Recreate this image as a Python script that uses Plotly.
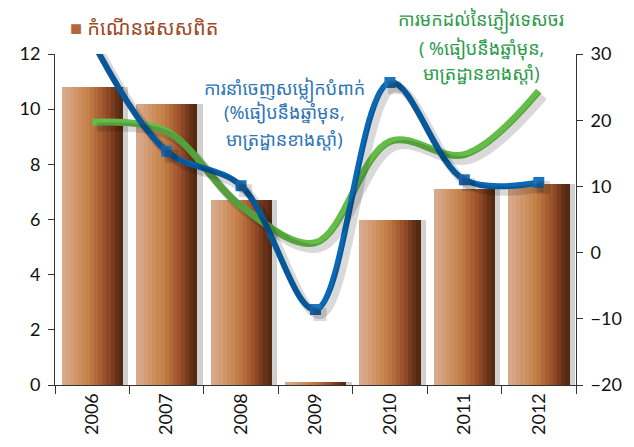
import plotly.graph_objects as go

years = ["2006", "2007", "2008", "2009", "2010", "2011", "2012"]
gdp_growth = [10.8, 10.2, 6.7, 0.1, 6.0, 7.1, 7.3]
garment_exports = [32.0, 15.3, 10.1, -8.6, 25.7, 11.0, 10.6]
tourist_arrivals = [19.7, 18.3, 7.0, 1.5, 16.8, 14.8, 24.4]

gdp_name = "កំណើនផសសពិត"
exports_label = ["ការនាំចេញសម្លៀកបំពាក់", "(%ធៀបនឹងឆ្នាំមុន,", "មាត្រដ្ឋានខាងស្តាំ)"]
tourist_label = ["ការមកដល់នៃភ្ញៀវទេសចរ", "( %ធៀបនឹងឆ្នាំមុន,", "មាត្រដ្ឋានខាងស្តាំ)"]

grad = ["#D8AA8C", "#D6A482", "#D39D76", "#D0966A", "#CD8F5E", "#C98852", "#C3804A",
        "#BC7642", "#B36A3A", "#A85E32", "#9C522B", "#8C4724", "#793B1D", "#643017", "#552912"]

FONT = "Lato, 'Noto Sans', sans-serif"
KH = "'Noto Sans Khmer', 'Khmer OS', 'Noto Sans', sans-serif"

fig = go.Figure()

BW = 0.82
fig.add_trace(go.Bar(x=years, y=gdp_growth, width=BW, offset=-BW / 2 + 0.075,
                     marker=dict(color="rgba(150,150,150,0.45)", line=dict(width=0)),
                     showlegend=False, hoverinfo="skip"))
n = len(grad)
sw = BW / n
for i, c in enumerate(grad):
    fig.add_trace(go.Bar(x=years, y=gdp_growth, width=sw * 1.08, offset=-BW / 2 + i * sw,
                         marker=dict(color=c, line=dict(width=0)),
                         showlegend=False, name=gdp_name))

fig.add_trace(go.Scatter(x=years, y=tourist_arrivals, mode="lines", xaxis="x2", yaxis="y3",
                         line=dict(color="rgba(0,0,0,0.15)", width=9, shape="spline", smoothing=1.0),
                         showlegend=False, hoverinfo="skip"))
fig.add_trace(go.Scatter(x=years, y=garment_exports, mode="lines+markers", xaxis="x2", yaxis="y3",
                         line=dict(color="rgba(0,0,0,0.15)", width=9, shape="spline", smoothing=1.0),
                         marker=dict(symbol="square", size=13, color="rgba(0,0,0,0.15)"),
                         showlegend=False, hoverinfo="skip"))

fig.add_trace(go.Scatter(x=years, y=tourist_arrivals, mode="lines", yaxis="y2",
                         line=dict(color="#64BD48", width=7, shape="spline", smoothing=1.0),
                         showlegend=False))
fig.add_trace(go.Scatter(x=years, y=garment_exports, mode="lines+markers", yaxis="y2",
                         line=dict(color="#0A68B4", width=6, shape="spline", smoothing=1.0),
                         marker=dict(symbol="square", size=11, color="#1E73BE"),
                         showlegend=False))

shift_y = 5 / 6.68
fig.update_layout(
    width=626, height=439,
    margin=dict(l=41, r=51, t=46, b=58),
    paper_bgcolor="white", plot_bgcolor="white",
    barmode="overlay", bargap=0,
    font=dict(family=FONT, size=18, color="#111"),
    showlegend=False,
    xaxis=dict(type="category", range=[-0.5, 6.5], showline=True, linecolor="#333", linewidth=1,
               ticks="outside", ticklen=8, tickcolor="#333", tickson="boundaries",
               tickangle=-90, tickfont=dict(size=18), showgrid=False, zeroline=False),
    xaxis2=dict(type="category", overlaying="x", range=[-0.56, 6.44], visible=False),
    yaxis=dict(range=[0, 12], dtick=2, showline=True, linecolor="#333", linewidth=1,
               ticks="outside", ticklen=6, tickcolor="#333", showgrid=False, zeroline=False,
               tickfont=dict(size=18), ticklabelstandoff=4),
    yaxis2=dict(range=[-20, 30], dtick=10, overlaying="y", side="right", showline=True,
                linecolor="#333", linewidth=1, ticks="outside", ticklen=6, tickcolor="#333",
                showgrid=False, zeroline=False, tickfont=dict(size=18), ticklabelstandoff=4),
    yaxis3=dict(range=[-20 + shift_y, 30 + shift_y], overlaying="y", visible=False),
)

fig.add_annotation(xref="paper", yref="paper", x=0.024, y=1.081, xanchor="left", yanchor="middle",
                   text="<span style='color:#B0683A'>■</span> " + gdp_name, showarrow=False,
                   font=dict(family=KH, size=20, color="#9C4A26"))
for txt, yy in zip(exports_label, [0.893, 0.822, 0.743]):
    fig.add_annotation(xref="paper", yref="paper", x=0.44, y=yy, xanchor="center", yanchor="middle",
                       text=txt, showarrow=False, font=dict(family=KH, size=18, color="#2E75B6"))
for txt, yy in zip(tourist_label, [1.101, 1.018, 0.943]):
    fig.add_annotation(xref="paper", yref="paper", x=0.818, y=yy, xanchor="center", yanchor="middle",
                       text=txt, showarrow=False, font=dict(family=KH, size=18, color="#2E9A4C"))

fig.write_html("out.html")
